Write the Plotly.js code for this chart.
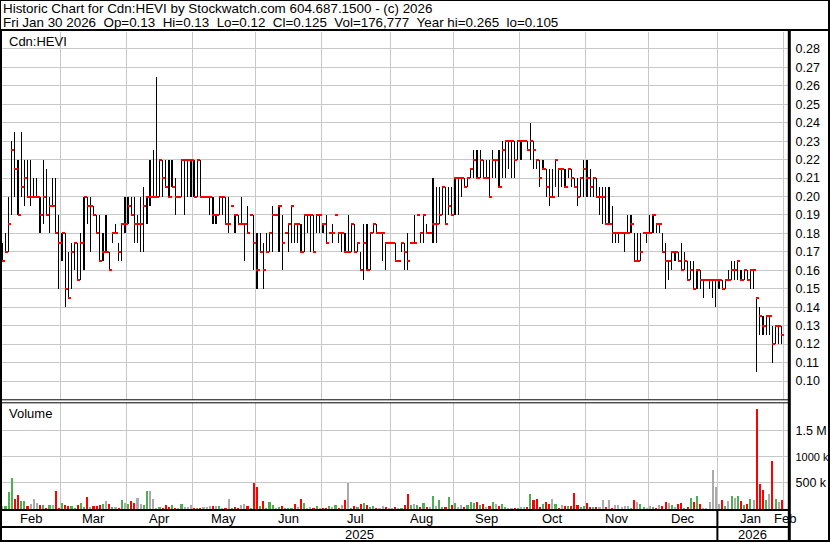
<!DOCTYPE html>
<html>
<head>
<meta charset="utf-8">
<script src="https://cdn.plot.ly/plotly-3.0.1.min.js"></script>
<style>
html,body{margin:0;padding:0;background:#fff;overflow:hidden;}
#chart{width:830px;height:543px;}
</style>
</head>
<body>
<div id="chart"></div>
<script>
// ---------------- DATA ----------------
const symbol = 'Cdn:HEVI';
const monthNames = ['Feb','Mar','Apr','May','Jun','Jul','Aug','Sep','Oct','Nov','Dec','Jan','Feb'];
const monthDays  = [19,21,21,20,21,22,20,21,21,20,22,21];
const yearLabels = ['2025','2026'];
const lastDate = 'Fri Jan 30 2026';
const lastOpen = 0.13;

const highs = [
 .175,.18,.20,.23,.235,.22,.235,.22,.22,.22,.21,.21,.20,.22,.215,.20,.21,.21,.19,
 .18,.18,.17,.175,.175,.175,.18,.20,.20,.20,.195,.19,.19,.18,.19,.17,.18,.185,.175,.185,.20,
 .20,.20,.20,.19,.20,.205,.20,.22,.225,.265,.22,.22,.22,.22,.22,.21,.20,.22,.22,.22,.22,
 .22,.22,.22,.20,.20,.20,.20,.19,.20,.20,.20,.20,.195,.19,.19,.20,.185,.195,.19,.19,
 .18,.18,.175,.18,.18,.195,.19,.195,.19,.18,.185,.195,.185,.185,.185,.19,.19,.19,.19,.19,.19,
 .185,.19,.18,.185,.19,.18,.18,.18,.19,.185,.185,.175,.17,.185,.185,.18,.185,.185,.18,.18,.175,.175,
 .175,.175,.165,.175,.175,.18,.175,.19,.19,.18,.19,.185,.18,.21,.205,.205,.205,.205,.205,.205,
 .21,.21,.21,.21,.21,.215,.225,.225,.225,.22,.22,.22,.225,.22,.225,.23,.23,.23,.23,.23,.23,
 .23,.23,.23,.24,.23,.22,.22,.22,.215,.215,.215,.22,.215,.215,.215,.215,.215,.21,.21,.21,.22,
 .22,.215,.21,.21,.205,.205,.205,.205,.195,.18,.18,.18,.18,.19,.19,.18,.18,.18,.18,.18,
 .19,.19,.185,.185,.18,.175,.165,.17,.17,.17,.175,.17,.165,.165,.165,.16,.16,.155,.155,.155,.155,.155,
 .155,.155,.155,.16,.165,.165,.165,.16,.16,.16,.16,.16,.145,.14,.135,.135,.135,.13,.13,.13,.13
];
const lows = [
 .165,.17,.17,.19,.20,.19,.20,.195,.20,.195,.20,.20,.18,.185,.19,.18,.195,.18,.15,
 .165,.14,.145,.15,.16,.155,.155,.16,.185,.17,.19,.18,.165,.165,.17,.16,.175,.18,.165,.165,.18,
 .185,.19,.175,.175,.17,.17,.185,.195,.20,.20,.20,.20,.205,.20,.205,.19,.20,.20,.19,.20,.20,
 .20,.20,.20,.20,.20,.19,.185,.185,.19,.19,.185,.18,.195,.18,.185,.185,.165,.18,.19,.16,
 .15,.17,.15,.17,.17,.17,.19,.17,.16,.18,.17,.175,.175,.175,.17,.17,.18,.17,.17,.18,.18,
 .18,.175,.18,.175,.19,.175,.17,.17,.17,.17,.17,.17,.16,.155,.16,.16,.18,.18,.18,.165,.16,.175,
 .175,.165,.165,.17,.16,.16,.175,.175,.19,.175,.175,.18,.18,.175,.175,.185,.19,.185,.19,.19,
 .19,.19,.20,.205,.205,.21,.21,.21,.21,.21,.21,.20,.21,.21,.205,.21,.21,.215,.21,.21,.22,
 .22,.23,.225,.22,.215,.215,.205,.215,.20,.195,.20,.205,.20,.205,.205,.21,.205,.205,.195,.20,.20,
 .20,.20,.20,.20,.19,.185,.185,.185,.175,.175,.175,.18,.17,.18,.18,.165,.165,.165,.18,.175,
 .18,.18,.18,.18,.17,.15,.155,.16,.165,.165,.16,.16,.155,.155,.15,.15,.15,.145,.155,.15,.145,.14,
 .15,.15,.15,.155,.155,.155,.155,.155,.155,.155,.15,.15,.105,.125,.125,.125,.125,.11,.12,.12,.12
];
const closes = [
 .165,.17,.185,.225,.215,.19,.205,.21,.20,.20,.20,.20,.19,.20,.19,.195,.195,.18,.175,
 .18,.15,.145,.17,.175,.155,.175,.20,.195,.195,.19,.18,.165,.17,.17,.16,.18,.18,.17,.185,.185,
 .195,.19,.185,.185,.185,.195,.20,.20,.20,.20,.22,.21,.205,.20,.205,.20,.20,.22,.22,.22,.22,
 .20,.22,.20,.20,.20,.20,.19,.19,.20,.20,.185,.185,.195,.19,.185,.185,.185,.18,.19,.175,
 .16,.17,.16,.17,.18,.19,.19,.195,.175,.18,.185,.195,.185,.185,.17,.19,.19,.19,.17,.19,.19,
 .185,.175,.18,.18,.19,.18,.18,.17,.17,.185,.17,.175,.16,.175,.16,.18,.185,.18,.18,.18,.175,.175,
 .175,.165,.165,.175,.17,.165,.175,.175,.19,.18,.19,.18,.18,.185,.185,.19,.205,.185,.195,.19,
 .21,.21,.21,.205,.21,.215,.22,.21,.22,.21,.21,.20,.22,.22,.205,.225,.23,.23,.23,.22,.23,
 .23,.23,.225,.23,.225,.22,.21,.215,.205,.20,.20,.22,.215,.215,.205,.215,.21,.205,.20,.21,.215,
 .21,.205,.21,.20,.20,.20,.185,.185,.18,.18,.18,.18,.18,.18,.185,.165,.165,.17,.18,.18,
 .18,.19,.185,.185,.17,.165,.165,.17,.17,.165,.16,.165,.155,.16,.15,.16,.155,.155,.155,.155,.155,.155,
 .155,.15,.155,.155,.16,.16,.165,.155,.16,.155,.16,.16,.145,.135,.13,.135,.135,.12,.13,.13,.125
];
// daily volume, thousands of shares
const volumeK = [
 58,58,327,596,192,270,154,154,58,96,192,115,77,77,19,77,77,346,19,
 115,77,58,58,19,77,115,38,231,38,58,58,77,96,154,96,38,38,19,173,115,
 96,154,115,212,96,77,346,346,192,10,38,19,77,38,77,19,19,96,38,38,77,
 19,19,19,38,38,58,58,58,58,19,19,192,19,38,19,77,96,58,19,500,
 423,58,154,19,135,77,19,38,58,19,19,19,96,38,192,115,19,38,19,58,19,
 19,19,58,38,77,19,77,173,500,19,58,38,96,115,77,38,58,19,19,58,38,19,
 19,38,19,19,77,288,77,96,77,38,115,38,38,250,58,173,38,38,231,77,
 115,38,77,38,77,135,115,135,77,96,38,58,135,96,58,96,38,19,19,19,19,
 38,38,38,288,173,192,38,96,135,96,192,96,19,77,58,58,58,308,77,38,58,
 115,38,38,38,38,173,38,173,19,77,77,38,58,58,19,173,135,96,38,19,
 58,38,19,77,58,135,115,77,38,96,115,19,38,212,135,250,96,19,19,135,750,423,
 96,173,58,154,250,212,250,154,77,96,192,173,1920,480,365,173,288,923,192,135,176.777
];
const priceTicks = [0.10,0.11,0.12,0.13,0.14,0.15,0.16,0.17,0.18,0.19,0.20,0.21,0.22,0.23,0.24,0.25,0.26,0.27,0.28];
const volumeTicks = [500000, 1000000, 1500000];
const volumeTickText = ['500 k', '1000 k', '1.5 M'];

// ---------------- BUILD ----------------
const FONT = 'Liberation Sans, Arial, Helvetica, sans-serif';
const GRID = '#c8c8c8', RED = '#ff0000', GREEN = '#4caf50', GRAY = '#aaaaaa';
const n = highs.length;
const idx = highs.map((_, i) => i);
const volumes = volumeK.map(v => Math.round(v * 1000));

const starts = []; let acc = 0;
monthDays.forEach(d => { starts.push(acc); acc += d; });
const boundaries = starts.slice(1).map(s => s - 0.5).concat([acc - 0.5]);

const volColors = closes.map((c, i) => {
  if (i === 0) return GRAY;
  const d = c - closes[i - 1];
  return d > 1e-9 ? GREEN : (d < -1e-9 ? RED : GRAY);
});

const xRange = [-0.43, 249.97];
const W = 830, H = 543, ML = 1, MR = 42, MT = 32, MB = 34;
const PW = W - ML - MR, PH = H - MT - MB;
const PX = px => (px - ML) / PW;                // pixel x -> paper
const PY = py => (H - MB - py) / PH;            // pixel y -> paper
const IX = i => (i - xRange[0]) / (xRange[1] - xRange[0]); // index -> paper x

const traces = [
  { type: 'bar', x: idx, base: lows, y: highs.map((h, i) => h - lows[i]),
    width: 0.05, marker: { color: '#000', line: { width: 0 } },
    xaxis: 'x', yaxis: 'y', hoverinfo: 'skip' },
  { type: 'bar', x: idx, base: closes.map(c => c - 0.0003), y: closes.map(() => 0.0006),
    width: 1.0, offset: -0.15, marker: { color: RED, line: { width: 0 } },
    xaxis: 'x', yaxis: 'y', hoverinfo: 'skip' },
  { type: 'bar', x: idx, y: volumes, width: 0.65,
    marker: { color: volColors, line: { width: 0 } },
    xaxis: 'x2', yaxis: 'y2', hoverinfo: 'skip' }
];

const annotations = [];
const txt = (text, x, y, size, xanchor, xref) => annotations.push({
  text, x, y, xref: xref || 'paper', yref: 'paper', xanchor: xanchor || 'left', yanchor: 'middle',
  showarrow: false, font: { family: FONT, size: size, color: '#000' }, borderpad: 0
});
const sp2 = '\u00a0\u00a0';
const yearHi = Math.max(...highs), yearLo = Math.min(...lows);
const last = n - 1;
txt('Historic Chart for ' + symbol + ' by Stockwatch.com 604.687.1500 - (c) 2026', PX(2), PY(8), 13.4);
txt(lastDate + sp2 + 'Op=' + lastOpen + sp2 + 'Hi=' + highs[last] + sp2 + 'Lo=' + lows[last] + sp2 +
    'Cl=' + closes[last] + sp2 + 'Vol=' + volumes[last].toLocaleString('en-US') + sp2 +
    'Year hi=' + yearHi + sp2 + 'lo=' + yearLo, PX(2), PY(22), 13.4);
txt(symbol, PX(8), PY(41), 13);
txt('Volume', PX(8), PY(413), 13);

monthNames.forEach((m, k) => {
  const pos = k < monthDays.length ? starts[k] + (monthDays[k] - 1) / 2 : acc;
  txt(m, pos, PY(518.5), 13, 'center', 'x');
});
const janK = monthNames.indexOf('Jan');
const yearSplit = starts[janK] - 0.5;
txt(yearLabels[0], (xRange[0] + yearSplit) / 2, PY(534.5), 13, 'center', 'x');
txt(yearLabels[1], (yearSplit + xRange[1]) / 2, PY(534.5), 13, 'center', 'x');

const shapes = [];
const ln = (x0, y0, x1, y1, w) => shapes.push({
  type: 'line', xref: 'paper', yref: 'paper', x0, y0, x1, y1,
  line: { color: '#000', width: w }, layer: 'above'
});
ln(PX(0), PY(0.5), PX(830), PY(0.5), 1);        // top
ln(PX(0), PY(30), PX(830), PY(30), 2);          // header bottom
ln(PX(0.5), PY(0), PX(0.5), PY(30), 1);         // left (header)
ln(PX(1), PY(30), PX(1), PY(541), 2);           // left
ln(PX(829), PY(0), PX(829), PY(542), 2);        // right
ln(PX(789.3), PY(30), PX(789.3), PY(542), 3);   // axis separator
ln(PX(0), PY(399.8), PX(789), PY(399.8), 1);    // double line
ln(PX(0), PY(402.8), PX(789), PY(402.8), 1);
ln(PX(0), PY(510), PX(789), PY(510), 2);        // volume bottom
ln(PX(0), PY(527), PX(789), PY(527), 2);        // month row bottom
ln(PX(0), PY(541), PX(830), PY(541), 2);        // bottom
ln(IX(yearSplit), PY(509), IX(yearSplit), PY(541), 2); // year separator

const axX = {
  domain: [0, 1], range: xRange, tickmode: 'array', tickvals: boundaries,
  showticklabels: false, ticks: '', showgrid: true, gridcolor: GRID, gridwidth: 1,
  zeroline: false, showline: false, fixedrange: true
};
// the widest volume label is set a little smaller so it fits inside the frame
const volTickLabels = volumeTickText.map(t => t.length > 5 ? '<span style="font-size:11px">' + t + '</span>' : t);
const layout = {
  width: W, height: H,
  margin: { l: ML, r: MR, t: MT, b: MB, pad: 0 },
  paper_bgcolor: '#fff', plot_bgcolor: '#fff',
  showlegend: false, hovermode: false,
  barmode: 'overlay', bargap: 0, bargroupgap: 0,
  font: { family: FONT, size: 12, color: '#000' },
  xaxis: Object.assign({}, axX, { anchor: 'y' }),
  xaxis2: Object.assign({}, axX, { anchor: 'y2', matches: 'x' }),
  yaxis: {
    domain: [PY(400), 1], range: [0.0897, 0.2892], side: 'right', anchor: 'x',
    tickmode: 'array', tickvals: priceTicks, ticktext: priceTicks.map(v => v.toFixed(2)),
    showgrid: true, gridcolor: GRID, zeroline: false, showline: false,
    ticks: 'outside', ticklen: 4, tickcolor: 'rgba(0,0,0,0)',
    tickfont: { family: FONT, size: 12.5, color: '#000' }, fixedrange: true
  },
  yaxis2: {
    domain: [0, PY(403)], range: [0, 2038000], side: 'right', anchor: 'x2',
    tickmode: 'array', tickvals: volumeTicks, ticktext: volTickLabels,
    showgrid: true, gridcolor: GRID, zeroline: false, showline: false,
    ticks: 'outside', ticklen: 4, tickcolor: 'rgba(0,0,0,0)',
    tickfont: { family: FONT, size: 12.5, color: '#000' }, fixedrange: true
  },
  annotations, shapes
};

Plotly.newPlot('chart', traces, layout, { displayModeBar: false, responsive: false });
</script>
</body>
</html>
